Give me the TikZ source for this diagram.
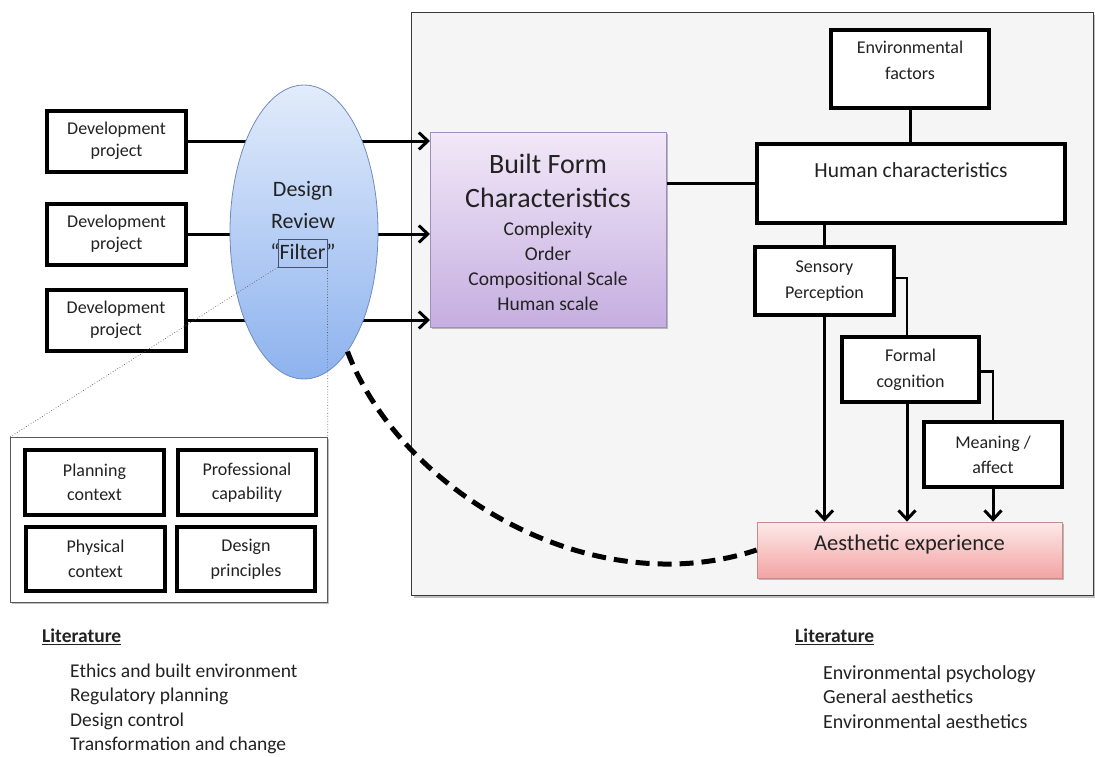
\documentclass[tikz,border=0pt]{standalone}
\usepackage{fontspec}
\setmainfont{Carlito}
\usetikzlibrary{shapes.geometric,arrows.meta,shadows}
\definecolor{txt}{HTML}{222222}
\definecolor{panelfill}{HTML}{F5F5F5}
\definecolor{panelline}{HTML}{3A3A3A}
\definecolor{ellTop}{HTML}{E2ECFB}
\definecolor{ellBot}{HTML}{8DB2EE}
\definecolor{ellLine}{HTML}{6F8CBF}
\definecolor{bfTop}{HTML}{F2E8F8}
\definecolor{bfBot}{HTML}{C5AEE0}
\definecolor{bfLine}{HTML}{9E8DBE}
\definecolor{aeTop}{HTML}{FDE9E9}
\definecolor{aeBot}{HTML}{F3A3A3}
\definecolor{aeLine}{HTML}{C88A8A}
\begin{document}
\begin{tikzpicture}[x=1pt,y=-1pt,
  thickbox/.style={draw=black, line width=4pt, fill=white, align=center, inner sep=0pt, text=txt, font=\fontsize{18}{24.5}\selectfont},
  devbox/.style={thickbox, minimum width=139, minimum height=61, font=\fontsize{18}{22}\selectfont},
  smallbox/.style={thickbox, minimum width=138, minimum height=65},
  conn/.style={line width=3pt, black},
  elbow/.style={line width=2.4pt, black},
  arr/.style={line width=3pt, black, -{Straight Barb[length=9pt,width=17pt]}},
  shad/.style={drop shadow={shadow xshift=2pt, shadow yshift=-2pt, opacity=0.25, fill=black}},
  dotline/.style={line width=0.7pt, gray!70!black, dotted},
  plain/.style={inner sep=0pt, text=txt, align=left}
]
\useasboundingbox (0,0) rectangle (1095,756);

% main panel
\node[shad, draw=panelline, line width=1pt, fill=panelfill, minimum width=682, minimum height=583, anchor=north west, inner sep=0] (panel) at (411,12) {};

% built form characteristics
\node[shad, draw=bfLine, line width=0.8pt, top color=bfTop, bottom color=bfBot, minimum width=236, minimum height=195, anchor=north west, inner sep=0] (bf) at (430,132) {};
\node[plain, align=center, font=\fontsize{28}{34}\selectfont] (bftitle) at (548,181) {Built Form\\Characteristics};
\node[plain, align=center, font=\fontsize{19.5}{25}\selectfont] (bflist) at (548,266) {Complexity\\Order\\Compositional Scale\\Human scale};

% development projects
\node[devbox] (d1) at (116.5,141) {Development\\project};
\node[devbox] (d2) at (116.5,234) {Development\\project};
\node[devbox] (d3) at (116,320) {Development\\project};

\draw[arr] (d1.east) -- (d1.east -| bf.west);
\draw[arr] (d2.east) -- (d2.east -| bf.west);
\draw[arr] (d3.east) -- (d3.east -| bf.west);

% design review ellipse
\node[ellipse, draw=ellLine, line width=0.8pt, top color=ellTop, bottom color=ellBot, minimum width=148, minimum height=294, inner sep=0] (dr) at (304,232) {};
\node[plain, align=center, font=\fontsize{22}{31.5}\selectfont] (drtext) at (303,221) {Design\\Review\\“Filter”};
\node[draw=ellLine!60!black, line width=0.8pt, minimum width=49, minimum height=28, inner sep=0] (filt) at (302.5,253) {};

% right side boxes
\node[thickbox, minimum width=158, minimum height=78, anchor=north west, font=\fontsize{18}{26}\selectfont] (ef) at (829,28) {Environmental\\factors\\[-8pt]\mbox{}};
\node[thickbox, minimum width=308, minimum height=79, anchor=north west, font=\fontsize{21.5}{26}\selectfont] (hc) at (755,142) {Human characteristics\\\mbox{}};
\node[thickbox, minimum width=139, minimum height=68, font=\fontsize{18}{26}\selectfont] (sp) at (824.5,281) {Sensory\\Perception};
\node[thickbox, minimum width=137, minimum height=65, font=\fontsize{18}{26}\selectfont] (fc) at (910.5,369.5) {Formal\\cognition};
\node[thickbox, minimum width=138, minimum height=65, font=\fontsize{18}{25}\selectfont] (ma) at (993,454.5) {Meaning /\\affect};
\node[shad, draw=aeLine, line width=0.8pt, top color=aeTop, bottom color=aeBot, minimum width=305, minimum height=56, inner sep=0, text=txt, align=center, font=\fontsize{22.5}{27}\selectfont] (ae) at (909.5,550) {Aesthetic experience\\[-12pt]\mbox{}};

\draw[conn] (ef.south) -- (ef.south |- hc.north);
\draw[conn] (hc.west) -- (hc.west -| bf.east);
\draw[conn] (sp.north |- hc.south) -- (sp.north);
\draw[elbow] ([yshift=3pt]sp.east) -| ([xshift=-3.5pt]fc.north);
\draw[elbow] ([yshift=-2pt]fc.east) -| (ma.north);
\draw[arr] (sp.south) -- (sp.south |- ae.north);
\draw[arr] ([xshift=-3.5pt]fc.south) -- ([xshift=-3.5pt]fc.south |- ae.north);
\draw[arr] (ma.south) -- (ma.south |- ae.north);

% dashed feedback curve
\draw[line width=5pt, dash pattern=on 14pt off 8pt] (dr.-70) .. controls (400,490) and (590,605) .. (ae.west);

% inset box
\node[shad, draw=gray!70!black, line width=0.8pt, fill=white, minimum width=317, minimum height=165, anchor=north west, inner sep=0] (inset) at (10,437) {};
\node[smallbox, minimum width=139] (pc) at (94.5,482.5) {Planning\\context};
\node[smallbox] (prc) at (247,482.5) {Professional\\capability};
\node[smallbox, minimum width=139, minimum height=64] (phc) at (95.5,559) {Physical\\context};
\node[smallbox, minimum height=64] (dp) at (246,559) {Design\\principles};

\draw[dotline] (filt.south west) -- (inset.north west);
\draw[dotline] (filt.south east) -- (inset.north east);

% literature
\node[plain, anchor=west, font=\bfseries\fontsize{19.5}{24}\selectfont] (lit1) at (42,637) {\underline{Literature}};
\node[plain, anchor=west, font=\fontsize{19.5}{24.5}\selectfont] (lit1list) at (70,709) {Ethics and built environment\\Regulatory planning\\Design control\\Transformation and change};
\node[plain, anchor=west, font=\bfseries\fontsize{19.5}{24}\selectfont] (lit2) at (795,637) {\underline{Literature}};
\node[plain, anchor=west, font=\fontsize{20}{24.5}\selectfont] (lit2list) at (823,697) {Environmental psychology\\General aesthetics\\Environmental aesthetics};
\end{tikzpicture}
\end{document}
